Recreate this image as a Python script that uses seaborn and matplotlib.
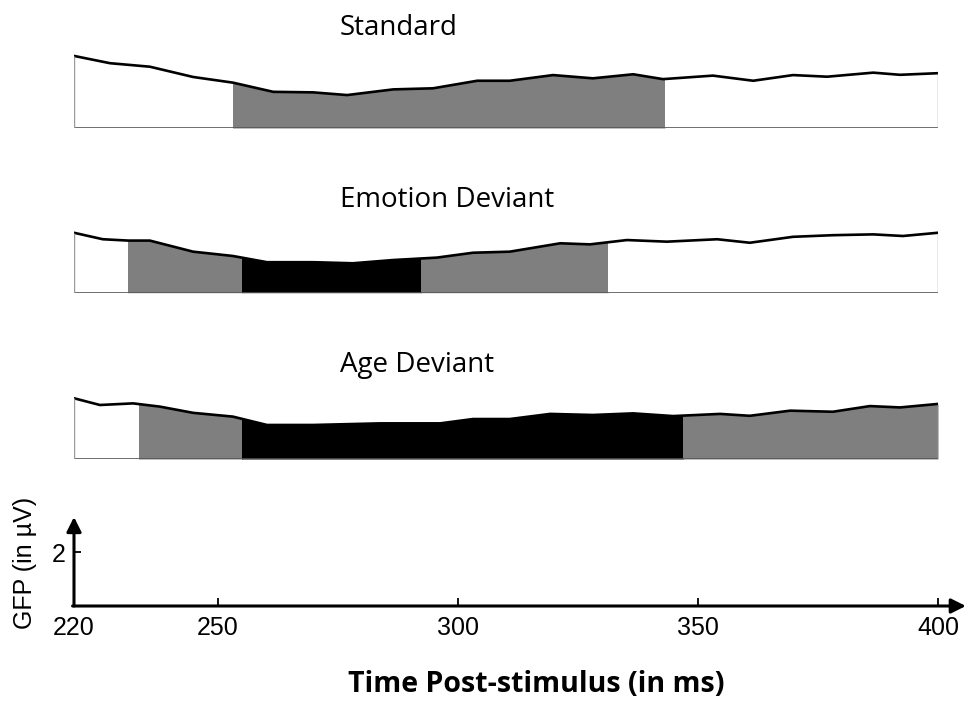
import numpy as np
import matplotlib
matplotlib.use("Agg")
import matplotlib.pyplot as plt
from matplotlib.patches import Rectangle
import seaborn as sns

# GFP curves (time in ms, amplitude in uV)
std_t = [220, 227.5, 235.8, 244.8, 253.1, 261.5, 269.8, 276.9, 286.5, 294.8, 304, 310.8,
         319.8, 328.1, 336.5, 342.7, 353.1, 361.5, 369.8, 376.9, 386.5, 392.1, 400]
std_gfp = [2.67, 2.40, 2.27, 1.89, 1.68, 1.34, 1.32, 1.22, 1.43, 1.47, 1.75, 1.75,
           1.96, 1.84, 1.99, 1.81, 1.94, 1.75, 1.96, 1.90, 2.05, 1.97, 2.03]

emo_t = [220, 226, 231.3, 235.8, 244.8, 253.1, 260.2, 269.8, 278.1, 286.5, 295.6, 303.1,
         310.8, 321.3, 327.5, 335.2, 343.5, 354, 360.8, 369.8, 378.1, 386.5, 392.7, 400]
emo_gfp = [2.22, 1.98, 1.93, 1.93, 1.52, 1.36, 1.13, 1.13, 1.09, 1.21, 1.30, 1.48,
           1.52, 1.83, 1.79, 1.95, 1.89, 1.98, 1.85, 2.07, 2.13, 2.16, 2.10, 2.22]

age_t = [220, 225.4, 232.3, 237.9, 244.8, 253.1, 260.2, 269.8, 283.8, 296.3, 303.1, 310.8,
         319.2, 328.1, 336.5, 344.8, 354.6, 360.8, 369.2, 378.1, 385.8, 392.1, 400]
age_gfp = [2.25, 2.00, 2.06, 1.94, 1.71, 1.57, 1.26, 1.26, 1.32, 1.32, 1.48, 1.48,
           1.67, 1.63, 1.69, 1.59, 1.67, 1.60, 1.79, 1.75, 1.96, 1.91, 2.04]

# shaded segments: (start ms, end ms, colour)
std_segments = [(220, 253.1, "white"), (253.1, 343.1, "#7f7f7f"), (343.1, 400, "white")]
emo_segments = [(220, 231.3, "white"), (231.3, 255.1, "#7f7f7f"), (255.1, 292.2, "black"),
                (292.2, 331.3, "#7f7f7f"), (331.3, 400, "white")]
age_segments = [(220, 233.5, "white"), (233.5, 255.1, "#7f7f7f"), (255.1, 346.9, "black"),
                (346.9, 400, "#7f7f7f")]

titles = ["Standard", "Emotion Deviant", "Age Deviant"]
x_ticks = [220, 250, 300, 350, 400]

sns.set_style("white")
plt.rcParams['font.family'] = ['Liberation Sans', 'DejaVu Sans']
plt.rcParams['text.color'] = 'black'

W, H = 968, 704
fig = plt.figure(figsize=(W / 100, H / 100), dpi=100)

left, width = 74 / W, 864 / W
baselines = [128, 292.7, 459]
title_baselines = [35, 206.7, 371.7]
panels = [(std_t, std_gfp, std_segments), (emo_t, emo_gfp, emo_segments),
          (age_t, age_gfp, age_segments)]

for (t, g, segs), base, tb, title in zip(panels, baselines, title_baselines, titles):
    ax = fig.add_axes([left, (H - base) / H, width, 81 / H])
    t = np.array(t)
    g = np.array(g)
    for a, b, c in segs:
        poly = ax.fill_between(t, 0, g, color=c, lw=0)
        clip = Rectangle((a, -1), b - a, 10, transform=ax.transData)
        poly.set_clip_path(clip)
    sns.lineplot(x=t, y=g, ax=ax, color="black", lw=1.9)
    ax.plot([220, 400], [0, 0], color="#555555", lw=1.2, solid_capstyle="butt")
    ax.vlines([t[0], t[-1]], 0, [g[0], g[-1]], color="#999999", lw=1)
    ax.set_xlim(220, 400)
    ax.set_ylim(0, 3)
    ax.axis("off")
    fig.text(340 / W, (H - tb) / H, title, family="Open Sans", fontsize=20,
             color="black", ha="left", va="baseline")

# scale axes at the bottom
ax = fig.add_axes([left, 98 / H, width, 89 / H])
ax.set_xlim(220, 400)
ax.set_ylim(0, 3.3)
for s in ax.spines.values():
    s.set_visible(False)
ax.annotate("", xy=(220, 3.3), xytext=(220, 0), annotation_clip=False,
            arrowprops=dict(arrowstyle="-|>", lw=2.2, color="black",
                            mutation_scale=22, shrinkA=0, shrinkB=0))
ax.annotate("", xy=(405.8, 0), xytext=(219.7, 0), annotation_clip=False,
            arrowprops=dict(arrowstyle="-|>", lw=2.2, color="black",
                            mutation_scale=22, shrinkA=0, shrinkB=0))
ax.set_xticks(x_ticks)
ax.set_xticklabels([str(v) for v in x_ticks])
ax.set_yticks([2])
ax.set_yticklabels(["2"])
ax.tick_params(axis="x", direction="in", length=6, width=1.3, pad=7,
               labelsize=18, colors="black", bottom=True)
ax.tick_params(axis="y", direction="in", length=5, width=1.3, pad=6,
               labelsize=18, colors="black", left=True)

fig.text(25 / W, (H - 563) / H, "GFP (in µV)", rotation=90, fontsize=18,
         color="black", ha="center", va="center")
fig.text(536 / W, (H - 691.7) / H, "Time Post-stimulus (in ms)", family="Open Sans",
         fontweight="bold", fontsize=20.5, color="black", ha="center", va="baseline")

fig.savefig("out.png", dpi=100)
